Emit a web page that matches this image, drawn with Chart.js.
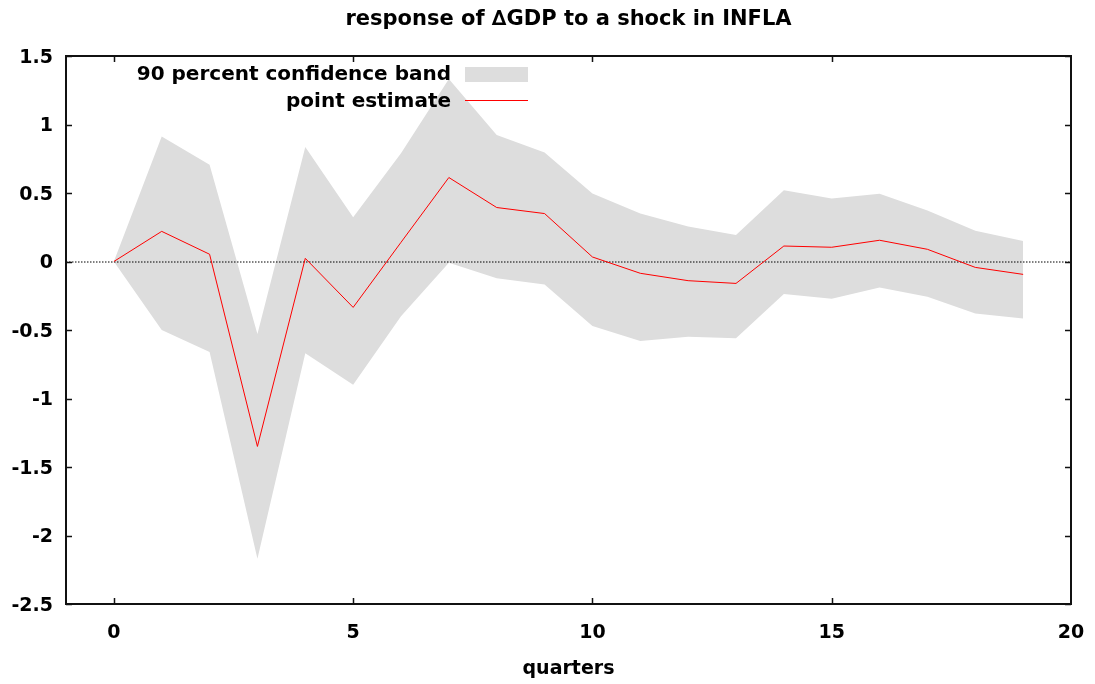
<!DOCTYPE html>
<html>
<head>
<meta charset="utf-8">
<script src="https://cdn.jsdelivr.net/npm/chart.js@4.4.1/dist/chart.umd.min.js"></script>
<style>
html,body{margin:0;padding:0;background:#fff;}
#wrap{width:1095px;height:684px;}
</style>
</head>
<body>
<div id="wrap"><canvas id="c" width="1095" height="684"></canvas></div>
<script>
const quarters = [0,1,2,3,4,5,6,7,8,9,10,11,12,13,14,15,16,17,18,19];
const pointEstimate = [0,0.22,0.053,-1.35,0.023,-0.335,0.14,0.613,0.394,0.35,0.033,-0.086,-0.14,-0.16,0.113,0.104,0.155,0.089,-0.043,-0.094];
const upperBand = [0,0.913,0.706,-0.53,0.835,0.323,0.79,1.333,0.923,0.796,0.496,0.35,0.255,0.194,0.52,0.46,0.494,0.372,0.225,0.15];
const lowerBand = [0,-0.50,-0.66,-2.17,-0.67,-0.90,-0.40,-0.009,-0.123,-0.167,-0.47,-0.58,-0.55,-0.56,-0.238,-0.272,-0.19,-0.257,-0.379,-0.416];
const xTicks = [0,5,10,15,20];
const yTicks = [-2.5,-2,-1.5,-1,-0.5,0,0.5,1,1.5];
const titleText = 'response of \u2206GDP to a shock in INFLA';
const xTitle = 'quarters';
const legendBand = '90 percent confidence band';
const legendLine = 'point estimate';

const FONT = '"DejaVu Sans", "Liberation Sans", Arial, sans-serif';
const toXY = arr => quarters.map((q,i)=>({x:q,y:arr[i]}));

const framePlugin = {
  id:'frame',
  beforeDatasetsDraw(chart){
    const {ctx, chartArea:a, scales:{y}} = chart;
    const y0 = y.getPixelForValue(0);
    ctx.save();
    ctx.strokeStyle = '#000';
    ctx.lineWidth = 1;
    ctx.setLineDash([1.5,1.5]);
    ctx.beginPath();
    ctx.moveTo(a.left, y0+0.5);
    ctx.lineTo(a.right, y0+0.5);
    ctx.stroke();
    ctx.restore();
  },
  afterDatasetsDraw(chart){
    const {ctx, chartArea:a, scales:{x,y}} = chart;
    ctx.save();
    ctx.strokeStyle = '#111';
    ctx.lineWidth = 1.5;
    ctx.beginPath();
    const tl = 6;
    yTicks.forEach(v=>{
      const p = Math.round(y.getPixelForValue(v))+0.5;
      ctx.moveTo(a.left,p); ctx.lineTo(a.left+tl,p);
      ctx.moveTo(a.right,p); ctx.lineTo(a.right-tl,p);
    });
    xTicks.forEach(v=>{
      const p = Math.round(x.getPixelForValue(v))+0.5;
      if (p > a.right - 2) return;
      ctx.moveTo(p,a.bottom); ctx.lineTo(p,a.bottom-tl);
      ctx.moveTo(p,a.top); ctx.lineTo(p,a.top+tl);
    });
    ctx.stroke();
    ctx.lineWidth = 2;
    ctx.strokeRect(a.left, a.top, a.right-a.left, a.bottom-a.top);
    // legend
    ctx.font = 'bold 20px ' + FONT;
    ctx.fillStyle = '#000';
    ctx.textAlign = 'right';
    ctx.textBaseline = 'middle';
    const tx = a.left + 385;
    ctx.fillText(legendBand, tx, a.top + 19);
    ctx.fillText(legendLine, tx, a.top + 46);
    ctx.fillStyle = '#dddddd';
    ctx.fillRect(a.left + 399, a.top + 11, 63, 15);
    ctx.strokeStyle = '#ff0000';
    ctx.lineWidth = 1;
    ctx.beginPath();
    ctx.moveTo(a.left + 399, a.top + 44.5);
    ctx.lineTo(a.left + 462, a.top + 44.5);
    ctx.stroke();
    ctx.restore();
  }
};

new Chart(document.getElementById('c'), {
  type:'line',
  data:{
    datasets:[
      {label:'upper', data:toXY(upperBand), borderWidth:0, pointRadius:0, backgroundColor:'#dddddd', fill:'+1', tension:0},
      {label:'lower', data:toXY(lowerBand), borderWidth:0, pointRadius:0, backgroundColor:'#dddddd', fill:false, tension:0},
      {label:legendLine, data:toXY(pointEstimate), borderColor:'#ff0000', borderWidth:1, pointRadius:0, fill:false, tension:0}
    ]
  },
  options:{
    responsive:false,
    animation:false,
    devicePixelRatio:1,
    layout:{padding:{left:0,right:24,top:0,bottom:0}},
    plugins:{
      legend:{display:false},
      tooltip:{enabled:false},
      filler:{drawTime:'beforeDatasetsDraw'},
      title:{display:true, fullSize:false, text:titleText, color:'#000',
        font:{family:FONT, size:21, weight:'bold', lineHeight:1.2},
        padding:{top:7, bottom:23.8}}
    },
    scales:{
      x:{type:'linear', min:-1, max:20,
        afterBuildTicks(s){ s.ticks = xTicks.map(v=>({value:v})); },
        afterFit(s){ s.height = 80; s.paddingLeft = 0; s.paddingRight = 0; },
        grid:{display:false, drawTicks:false}, border:{display:false},
        ticks:{color:'#000', padding:18, maxRotation:0, autoSkip:false,
          callback:v=>String(v),
          font:{family:FONT, size:19, weight:'bold'}},
        title:{display:true, text:xTitle, color:'#000',
          font:{family:FONT, size:19, weight:'bold', lineHeight:1.2},
          padding:{top:0,bottom:4}}
      },
      y:{type:'linear', min:-2.5, max:1.5,
        afterBuildTicks(s){ s.ticks = yTicks.map(v=>({value:v})); },
        afterFit(s){ s.width = 66; s.paddingTop = 0; s.paddingBottom = 0; },
        grid:{display:false, drawTicks:false}, border:{display:false},
        ticks:{color:'#000', padding:13, autoSkip:false, labelOffset:2,
          callback:v=>String(v),
          font:{family:FONT, size:19, weight:'bold'}}
      }
    }
  },
  plugins:[framePlugin]
});
</script>
</body>
</html>
